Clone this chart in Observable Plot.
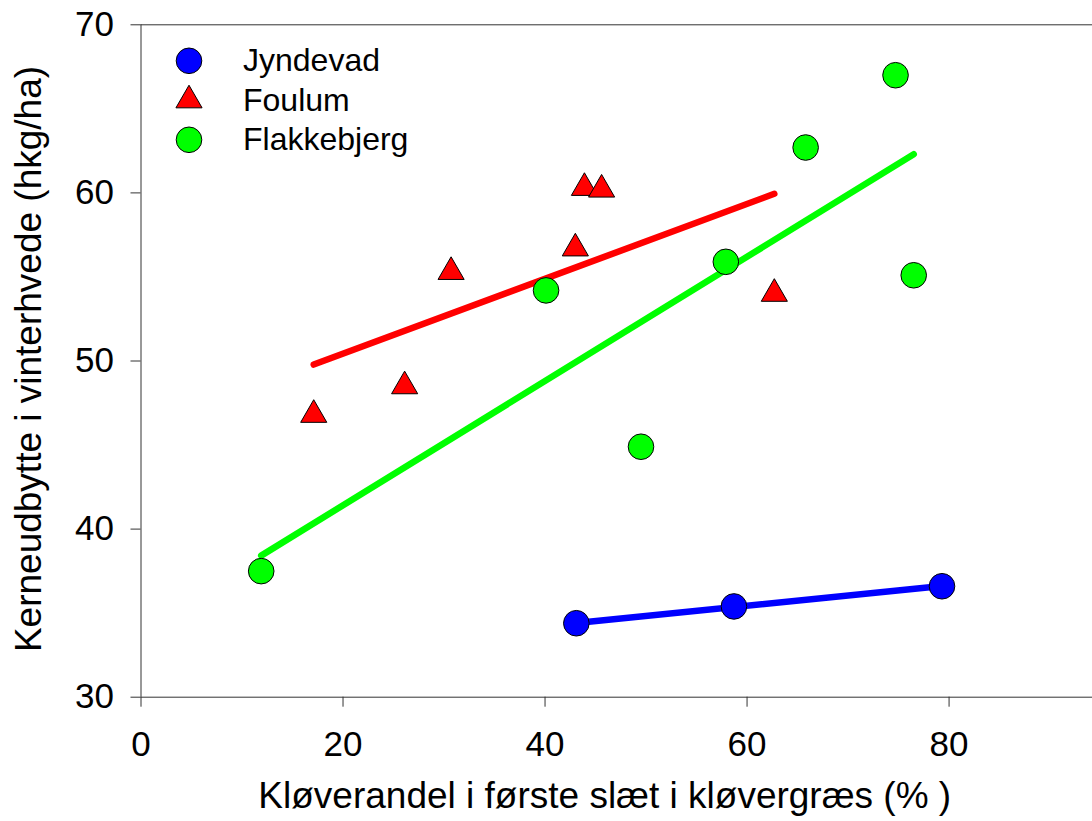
<!DOCTYPE html>
<html><head><meta charset="utf-8">
<script src="https://cdn.jsdelivr.net/npm/d3@7"></script>
<script src="https://cdn.jsdelivr.net/npm/@observablehq/plot@0.6"></script>
<style>body{margin:0;background:#fff}</style>
</head><body><div id="chart"></div>
<script>
const sites = ["Jyndevad", "Foulum", "Flakkebjerg"];
const siteColors = ["#0000ff", "#ff0000", "#00ff00"];
const siteSymbols = ["circle", "triangle", "circle"];
const jyndevadX = [43.1, 58.7, 79.3];
const jyndevadY = [34.4, 35.4, 36.6];
const foulumX = [17.1, 26.1, 30.7, 43.0, 43.9, 45.6, 62.7];
const foulumY = [46.8, 48.5, 55.3, 56.7, 60.3, 60.2, 54.0];
const flakkebjergX = [11.9, 40.1, 49.5, 57.9, 65.8, 74.7, 76.5];
const flakkebjergY = [37.5, 54.2, 44.9, 55.9, 62.7, 67.0, 55.1];
const xTicks = [0, 20, 40, 60, 80];
const yTicks = [30, 40, 50, 60, 70];
const xLabel = "Kløverandel i første slæt i kløvergræs (% )";
const yLabel = "Kerneudbytte i vinterhvede (hkg/ha)";

const seriesX = [jyndevadX, foulumX, flakkebjergX];
const seriesY = [jyndevadY, foulumY, flakkebjergY];
const tables = sites.map((s, k) => seriesX[k].map((x, i) => ({site: s, x, y: seriesY[k][i]})));

const symbolR = {circle: 12.8, triangle: 9.7};
const axisColor = "#333";
const tickFont = 35;
const legendFont = 32;
const titleFont = 37;

const marks = [
  Plot.ruleY([d3.max(yTicks)], {stroke: axisColor}),
  Plot.ruleY([d3.min(yTicks)], {stroke: axisColor}),
  Plot.ruleX([d3.min(xTicks)], {stroke: axisColor}),
  Plot.axisX({ticks: xTicks, tickSize: 10, tickPadding: 24, fontSize: tickFont, label: null, stroke: axisColor, fill: "black"}),
  Plot.axisY({ticks: yTicks, tickSize: 10, tickPadding: 17, fontSize: tickFont, label: null, stroke: axisColor, fill: "black"}),
  Plot.text([xLabel], {frameAnchor: "bottom", text: d => d, dy: 99, dx: -12, fontSize: titleFont, textAnchor: "middle", lineAnchor: "middle", fill: "black"}),
  Plot.text([yLabel], {frameAnchor: "left", text: d => d, dx: -112, dy: -2, rotate: -90, fontSize: titleFont, textAnchor: "middle", lineAnchor: "middle", fill: "black"})
];

tables.forEach((t, k) => {
  marks.push(Plot.linearRegressionY(t, {x: "x", y: "y", stroke: siteColors[k], strokeWidth: 6.5, ci: 0, strokeLinecap: "round"}));
});
tables.forEach((t, k) => {
  marks.push(Plot.dot(t, {x: "x", y: "y", fill: siteColors[k], symbol: siteSymbols[k], r: symbolR[siteSymbols[k]], stroke: "black", strokeWidth: 1}));
});
sites.forEach((s, k) => {
  marks.push(Plot.dot([s], {frameAnchor: "top-left", dx: 48, dy: 36 + k * 39.5, fill: siteColors[k], symbol: siteSymbols[k], r: symbolR[siteSymbols[k]], stroke: "black", strokeWidth: 1}));
  marks.push(Plot.text([s], {frameAnchor: "top-left", dx: 102, dy: 36 + k * 39.5, text: d => d, textAnchor: "start", lineAnchor: "middle", fontSize: legendFont, fill: "black"}));
});

const chart = Plot.plot({
  width: 1092,
  height: 821,
  marginLeft: 140.5,
  marginRight: 0,
  marginTop: 24.3,
  marginBottom: 124.3,
  x: {domain: [0, 94.2]},
  y: {domain: [30, 70]},
  style: {fontFamily: "'Liberation Sans', Arial, sans-serif", background: "white", color: "black"},
  marks
});
document.getElementById("chart").appendChild(chart);
</script>
</body></html>
